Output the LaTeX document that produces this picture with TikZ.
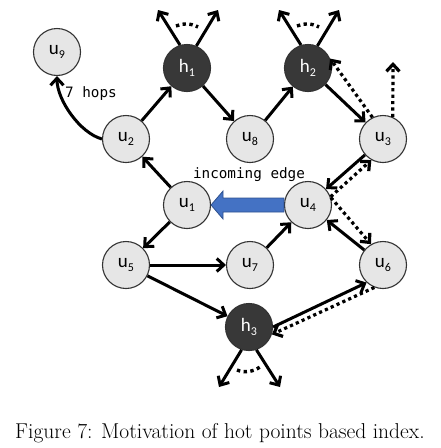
\documentclass[tikz,border=0pt]{standalone}
\usepackage{fontspec}
\usetikzlibrary{arrows.meta,calc}
\newfontfamily\calib{Carlito}
\newfontfamily\monof{DejaVu Sans Mono}
\definecolor{nodegray}{HTML}{E6E6E6}
\definecolor{hotgray}{HTML}{383838}
\definecolor{arrowblue}{HTML}{4472C4}
\definecolor{arrowedge}{HTML}{2F528F}
\newcommand{\ulab}[2]{#1\raisebox{-0.2em}{\fontsize{12}{12}\selectfont #2}}
\begin{document}
\begin{tikzpicture}[x=1pt,y=-1pt,
 vert/.style={circle, draw=black!80, line width=1.1pt, minimum size=47pt, inner sep=0pt, font=\calib\fontsize{19}{19}\selectfont},
 cold/.style={vert, fill=nodegray, text=black},
 hot/.style={vert, fill=hotgray, text=white},
 edge/.style={line width=3pt, -{Straight Barb[length=7pt,width=13pt]}},
 dotedge/.style={edge, line cap=butt, dash pattern=on 3.2pt off 3.2pt, line width=3.2pt},
 dotarc/.style={line cap=butt, dash pattern=on 3.4pt off 3.4pt, line width=3.4pt},
 mono/.style={font=\monof\fontsize{14.3}{14.3}\selectfont, inner sep=0pt},
 bluearrow/.style={fill=arrowblue, draw=arrowedge, line width=0.8pt, line join=miter},
]
\useasboundingbox (0,0) rectangle (441,448);
% nodes
\node[cold] (u9) at (57,52) {\ulab{u}{9}};
\node[hot]  (h1) at (187,68) {\ulab{h}{1}};
\node[hot]  (h2) at (308,68) {\ulab{h}{2}};
\node[cold] (u2) at (126,139) {\ulab{u}{2}};
\node[cold] (u8) at (250,139) {\ulab{u}{8}};
\node[cold] (u3) at (383,139) {\ulab{u}{3}};
\node[cold] (u1) at (187,205) {\ulab{u}{1}};
\node[cold] (u4) at (308,205) {\ulab{u}{4}};
\node[cold] (u5) at (126,265) {\ulab{u}{5}};
\node[cold] (u7) at (250,265) {\ulab{u}{7}};
\node[cold] (u6) at (383,265) {\ulab{u}{6}};
\node[hot]  (h3) at (249,327) {\ulab{h}{3}};
% free ends
\coordinate (h1a) at (158,10);
\coordinate (h1b) at (218,10);
\coordinate (h2a) at (279,10);
\coordinate (h2b) at (339,10);
\coordinate (h3a) at (219,387);
\coordinate (h3b) at (280,387);
\coordinate (u3up) at (393,62);
% edges
\draw[edge] (u1) -- (u2);
\draw[edge] (u2) -- (h1);
\draw[edge] (h1) -- (u8);
\draw[edge] (u8) -- (h2);
\draw[edge] (h2) -- (u3);
\draw[dotedge] (u3.116) -- (h2.23);
\draw[edge] (u3) -- (u4);
\draw[dotedge] (u4.20) -- (u3.241);
\draw[edge] (u6) -- (u4);
\draw[dotedge] (u4.18) -- (u6.120);
\draw[edge] (u1) -- (u5);
\draw[edge] (u5) -- (u7);
\draw[edge] (u7) -- (u4);
\draw[edge] (u5) -- (h3);
\draw[edge] (h3.0) -- (u6.227);
\draw[dotedge] (u6.249) -- (h3.342);
\draw[dotedge] (u3.66) -- (u3up);
% hot point fan-out
\draw[edge] (h1.107) -- (h1a);
\draw[edge] (h1.67) -- (h1b);
\draw[edge] (h2.107) -- (h2a);
\draw[edge] (h2.67) -- (h2b);
\draw[edge] (h3.252) -- (h3a);
\draw[edge] (h3.288) -- (h3b);
\draw[dotarc] ($(h1)+(-11,-42)$) .. controls ($(h1)+(-4,-45)$) and ($(h1)+(4,-45)$) .. ($(h1)+(11,-41)$);
\draw[dotarc] ($(h2)+(-11,-42)$) .. controls ($(h2)+(-4,-45)$) and ($(h2)+(4,-45)$) .. ($(h2)+(11,-41)$);
\draw[dotarc] ($(h3)+(-12,43)$) .. controls ($(h3)+(-5,46)$) and ($(h3)+(4,45)$) .. ($(h3)+(11,40)$);
% 7 hops
\draw[edge] (u2.west) .. controls (80,133) and (57,100) .. (u9.south);
\node[mono] (hops) at (91,94) {7 hops};
% incoming edge
\node[mono] (inc) at (249,175) {incoming edge};
\draw[bluearrow] (u1.east) -- ($(u1.east)+(12,-14)$) -- ($(u1.east)+(12,-7)$) -- ($(u4.west)+(0,-7)$) -- ($(u4.west)+(0,7)$) -- ($(u1.east)+(12,7)$) -- ($(u1.east)+(12,14)$) -- cycle;
% caption
\node[font=\fontsize{21.5}{24}\selectfont, inner sep=0pt] (cap) at (220,433) {Figure 7: Motivation of hot points based index.};
\end{tikzpicture}
\end{document}
